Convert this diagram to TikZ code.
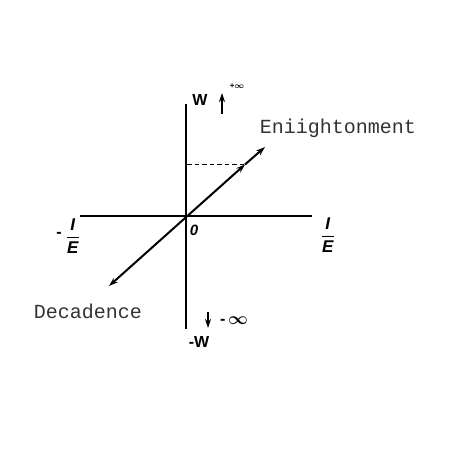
\documentclass[tikz,border=0pt]{standalone}
\usepackage{amsmath}
\usepackage{fontspec}
\setsansfont{Liberation Sans}
\newfontfamily\monof{Liberation Mono}
\usetikzlibrary{arrows.meta}
\begin{document}
\begin{tikzpicture}[x=1pt,y=-1pt,
  axis/.style={line width=1.6pt,black},
  diag/.style={line width=2pt,black},
  tip/.style={-{Stealth[length=9pt,width=6pt]}},
  mono/.style={font=\monof\fontsize{20}{22}\selectfont,text=black!80},
  lab/.style={font=\sffamily\bfseries\fontsize{16}{18}\selectfont,inner sep=0pt},
  frac/.style={font=\sffamily\bfseries\fontsize{17}{19}\selectfont,inner sep=0pt},
]
\useasboundingbox (0,0) rectangle (450,450);
\coordinate (O) at (186,216);
\coordinate (top) at (186,104);
\coordinate (bot) at (186,329);
\coordinate (left) at (80,216);
\coordinate (right) at (312,216);
\coordinate (dl) at (109,286);
\coordinate (mid) at (245,164.5);
\coordinate (du) at (265,147);
\coordinate (ds) at (187,164.5);
\coordinate (uaB) at (222,114);
\coordinate (uaT) at (222,93);
\coordinate (daT) at (208,312);
\coordinate (daB) at (208,328);

\draw[axis] (top) -- (bot);
\draw[axis] (left) -- (right);
\draw[line width=1.4pt,dash pattern=on 4.5pt off 3pt] (ds) -- (mid);
\draw[diag,{Stealth[length=9pt,width=6pt]}-{Stealth[length=9pt,width=6pt]}] (dl) -- (mid);
\draw[diag,tip] (mid) -- (du);

\draw[line width=1.5pt,tip] (uaB) -- (uaT);
\draw[line width=1.5pt,tip] (daT) -- (daB);

\node[mono] (enl) at (338,128) {Eniightonment};
\node[mono] (dec) at (88,311) {Decadence};
\node[lab] (w) at (200,100) {W};
\node[lab,font=\sffamily\bfseries\fontsize{8}{9}\selectfont] (pinf) at (237,86) {+$\boldsymbol{\infty}$};
\node[lab] (minf) at (234,321) {-\,$\boldsymbol{\infty}$};
\node[lab] (mw) at (199,342) {-W};
\node[lab,font=\sffamily\bfseries\itshape\fontsize{15}{17}\selectfont] (zero) at (194,230) {0};
\node[frac] (lfrac) at (73,236) {$\displaystyle\frac{\textsf{\textit{I}}}{\textsf{\textit{E}}}$};
\node[lab] (lminus) at (59,235) {-};
\node[frac] (rfrac) at (328,235) {$\displaystyle\frac{\textsf{\textit{I}}}{\textsf{\textit{E}}}$};
\end{tikzpicture}
\end{document}
